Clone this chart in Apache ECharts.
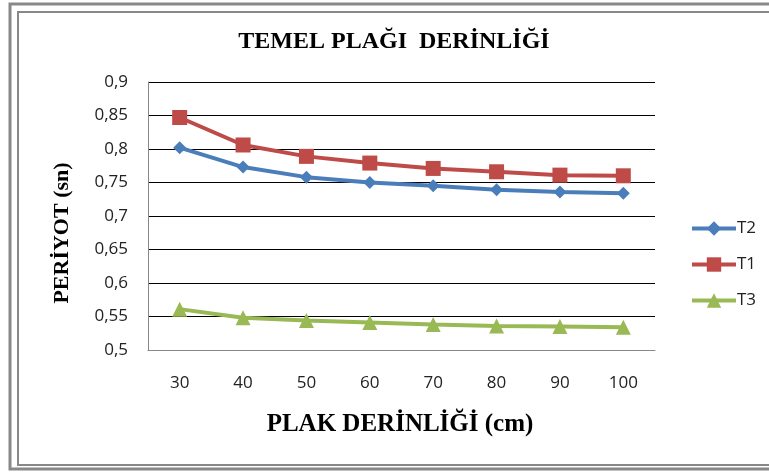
<!DOCTYPE html>
<html>
<head>
<meta charset="utf-8">
<script src="https://cdn.jsdelivr.net/npm/echarts@6/dist/echarts.min.js"></script>
<style>
html,body{margin:0;padding:0;background:#fff;}
#chart{width:769px;height:472px;}
</style>
</head>
<body>
<div id="chart"></div>
<script>
var categories = ['30', '40', '50', '60', '70', '80', '90', '100'];
var seriesNames = ['T2', 'T1', 'T3'];
var t2 = [0.802, 0.773, 0.758, 0.750, 0.745, 0.739, 0.736, 0.734];
var t1 = [0.847, 0.806, 0.789, 0.779, 0.771, 0.766, 0.761, 0.760];
var t3 = [0.561, 0.548, 0.544, 0.541, 0.538, 0.536, 0.535, 0.534];
var titleText = 'TEMEL PLAĞI  DERİNLİĞİ';
var yTitle = 'PERİYOT (sn)';
var xTitle = 'PLAK DERİNLİĞİ (cm)';

var chart = echarts.init(document.getElementById('chart'), null, {renderer: 'canvas'});
var tickFont = {fontFamily: 'Open Sans', fontSize: 17, color: '#222'};

function mk(name, data, color, symbol, size) {
  return {
    name: name, type: 'line', data: data,
    symbol: symbol, symbolSize: size,
    lineStyle: {color: color, width: 4},
    itemStyle: {color: color},
    emphasis: {disabled: true},
    animation: false
  };
}

chart.setOption({
  animation: false,
  graphic: [
    {type: 'rect', shape: {x: 10, y: 4, width: 800, height: 465}, style: {fill: 'none', stroke: '#888', lineWidth: 3}, silent: true},
    {type: 'rect', shape: {x: 18, y: 12, width: 800, height: 453}, style: {fill: 'none', stroke: '#888', lineWidth: 2}, silent: true},
    {type: 'text', x: 394, y: 42, style: {text: titleText, font: 'bold 24px "Liberation Serif"', fill: '#000', textAlign: 'center', textVerticalAlign: 'middle'}},
    {type: 'text', x: 400, y: 425, style: {text: xTitle, font: 'bold 25px "Liberation Serif"', fill: '#000', textAlign: 'center', textVerticalAlign: 'middle'}},
    {type: 'text', x: 62, y: 233, rotation: Math.PI / 2, style: {text: yTitle, font: 'bold 22px "Liberation Serif"', fill: '#000', textAlign: 'center', textVerticalAlign: 'middle'}}
  ],
  legend: {
    data: seriesNames,
    orient: 'vertical',
    left: 685, top: 215,
    itemWidth: 44, itemHeight: 18, itemGap: 19,
    lineStyle: {width: 4},
    textStyle: {fontFamily: 'Open Sans', fontSize: 17, color: '#222', padding: [0, 0, 0, -4]},
    selectedMode: false
  },
  grid: {left: 148, right: 114, top: 82, bottom: 122, containLabel: false},
  xAxis: {
    type: 'category', data: categories, boundaryGap: true,
    axisLine: {lineStyle: {color: '#888', width: 1}},
    axisTick: {show: false},
    axisLabel: Object.assign({margin: 25}, tickFont),
    splitLine: {show: false}
  },
  yAxis: {
    type: 'value', min: 0.5, max: 0.9, interval: 0.05,
    axisLine: {show: true, lineStyle: {color: '#888', width: 1}},
    axisTick: {show: false},
    axisLabel: Object.assign({margin: 20, formatter: function (v) { return String(Number(v.toFixed(2))).replace('.', ','); }}, tickFont),
    splitLine: {lineStyle: {color: '#000', width: 1}}
  },
  series: [
    mk('T2', t2, '#4a7ebb', 'diamond', 13),
    mk('T1', t1, '#be4b48', 'rect', 15),
    mk('T3', t3, '#98b954', 'triangle', 15)
  ]
});
</script>
</body>
</html>
